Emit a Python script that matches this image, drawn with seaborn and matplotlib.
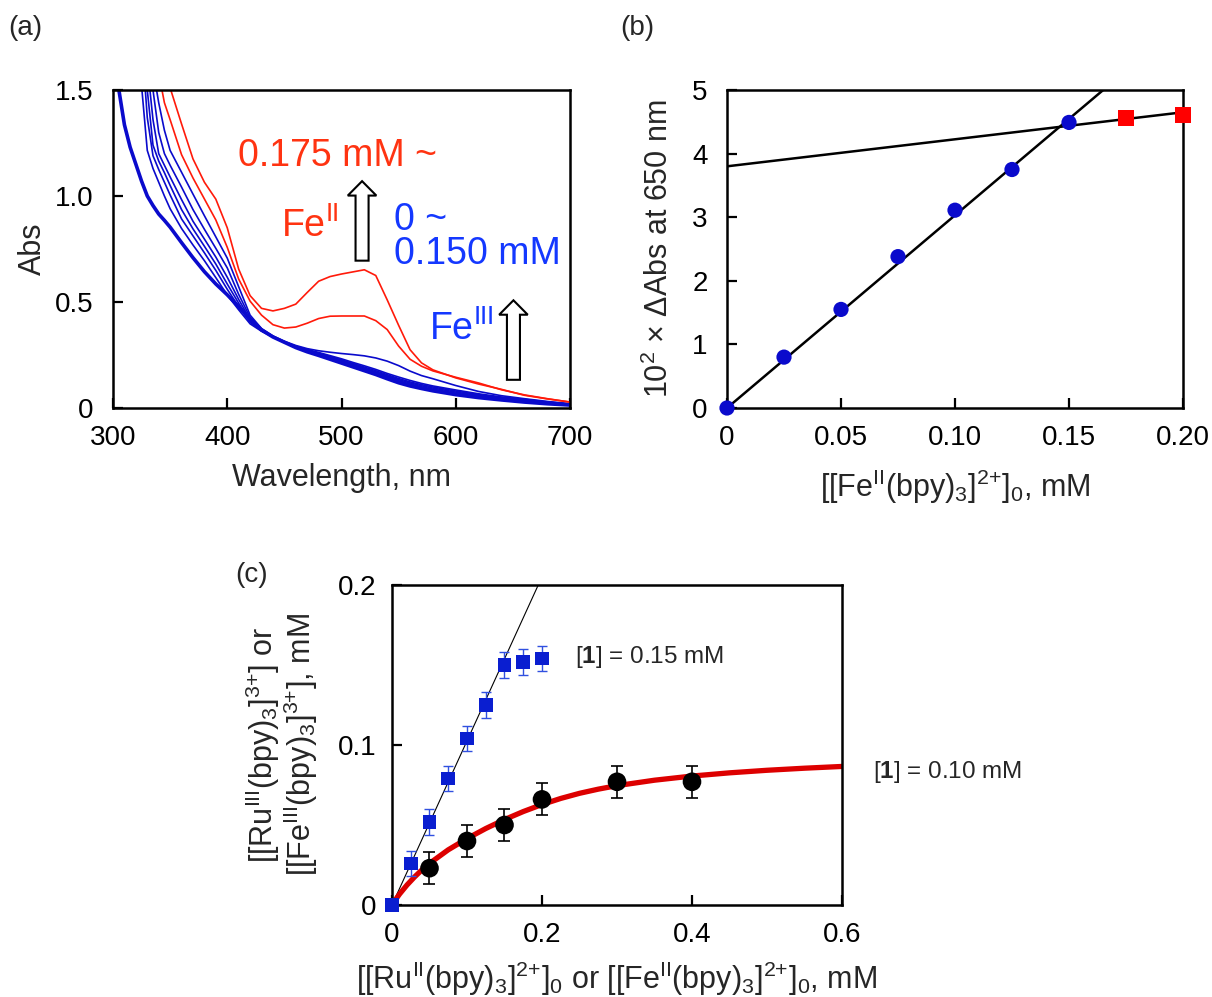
import numpy as np
import pandas as pd
import seaborn as sns
import matplotlib.pyplot as plt
from matplotlib.patches import FancyArrow

# ---- (a) spectra, Abs (values > 1.5 are off-scale)
wl = [300, 305, 310, 315, 320, 325, 330, 335, 340, 345, 350, 360, 370, 380, 390, 400, 410, 420, 430, 440,
      450, 460, 470, 480, 490, 500, 510, 520, 530, 540, 550, 560, 570, 580, 600,
      620, 640, 660, 680, 700]
abs_000 = [1.72, 1.505, 1.336, 1.23, 1.15, 1.07, 1.0, 0.955, 0.915, 0.885, 0.853,
           0.78, 0.709, 0.643, 0.585, 0.534, 0.478, 0.42, 0.368, 0.335,
           0.31, 0.285, 0.265, 0.248, 0.23, 0.212, 0.194, 0.176, 0.158, 0.138, 0.119, 0.104, 0.092, 0.081, 0.063,
           0.049, 0.038, 0.028, 0.02, 0.014]
abs_025 = [2.9, 2.7, 2.5, 2.3, 1.95, 1.52, 1.215, 1.13, 1.065, 1.0, 0.94,
           0.847, 0.769, 0.695, 0.615, 0.533, 0.463, 0.397, 0.362, 0.335,
           0.31, 0.286, 0.267, 0.25, 0.233, 0.215, 0.198, 0.18, 0.163, 0.143, 0.124, 0.109, 0.096, 0.085, 0.066,
           0.052, 0.04, 0.03, 0.021, 0.015]
abs_050 = [2.9, 2.7, 2.5, 2.3, 2.1, 1.75, 1.37, 1.19, 1.125, 1.065, 1.005,
           0.892, 0.812, 0.732, 0.649, 0.56, 0.478, 0.405, 0.364, 0.335,
           0.31, 0.287, 0.269, 0.253, 0.236, 0.219, 0.202, 0.184, 0.167, 0.148, 0.129, 0.113, 0.1, 0.089, 0.07,
           0.055, 0.043, 0.032, 0.023, 0.016]
abs_075 = [2.9, 2.7, 2.6, 2.4, 2.2, 1.85, 1.5, 1.24, 1.165, 1.11, 1.05,
           0.936, 0.845, 0.763, 0.679, 0.585, 0.494, 0.411, 0.366, 0.336,
           0.311, 0.288, 0.271, 0.256, 0.239, 0.223, 0.206, 0.188, 0.171, 0.152, 0.134, 0.118, 0.105, 0.094, 0.075,
           0.059, 0.046, 0.035, 0.025, 0.017]
abs_100 = [3.0, 2.8, 2.6, 2.4, 2.2, 1.95, 1.62, 1.36, 1.2, 1.145, 1.09,
           0.983, 0.881, 0.797, 0.712, 0.617, 0.512, 0.418, 0.368, 0.337,
           0.312, 0.29, 0.273, 0.259, 0.243, 0.227, 0.21, 0.193, 0.176, 0.157, 0.139, 0.123, 0.11, 0.099, 0.08,
           0.063, 0.049, 0.038, 0.027, 0.018]
abs_125 = [3.0, 2.8, 2.6, 2.4, 2.25, 2.0, 1.72, 1.5, 1.3, 1.2, 1.145,
           1.042, 0.936, 0.843, 0.753, 0.661, 0.536, 0.427, 0.372, 0.338,
           0.313, 0.292, 0.276, 0.262, 0.247, 0.232, 0.215, 0.199, 0.182, 0.163, 0.146, 0.13, 0.116, 0.104, 0.085,
           0.067, 0.052, 0.041, 0.029, 0.019]
abs_150 = [3.0, 2.9, 2.7, 2.5, 2.3, 2.1, 1.82, 1.6, 1.44, 1.31, 1.215,
           1.112, 1.009, 0.907, 0.807, 0.707, 0.572, 0.438, 0.375, 0.34,
           0.315, 0.295, 0.28, 0.27, 0.263, 0.257, 0.252, 0.246, 0.236, 0.221, 0.2, 0.174, 0.153, 0.138, 0.106,
           0.078, 0.058, 0.044, 0.031, 0.02]
abs_175 = [3.2, 3.0, 2.8, 2.6, 2.45, 2.3, 2.0, 1.8, 1.58, 1.44, 1.36,
           1.195, 1.085, 0.986, 0.887, 0.758, 0.608, 0.504, 0.438, 0.393,
           0.377, 0.382, 0.40, 0.422, 0.433, 0.434, 0.434, 0.434, 0.412, 0.37, 0.292, 0.23, 0.197, 0.175, 0.145,
           0.118, 0.086, 0.062, 0.044, 0.028]
abs_200 = [3.2, 3.1, 2.9, 2.75, 2.6, 2.5, 2.3, 2.1, 1.85, 1.65, 1.51,
           1.34, 1.175, 1.065, 0.985, 0.85, 0.655, 0.53, 0.47, 0.458,
           0.47, 0.49, 0.545, 0.598, 0.62, 0.632, 0.642, 0.652, 0.625, 0.51, 0.39, 0.275, 0.213, 0.18, 0.142,
           0.113, 0.088, 0.06, 0.043, 0.028]
blue_thin = [abs_025, abs_050, abs_075, abs_100, abs_125, abs_150]
red_curves = [abs_175, abs_200]

# ---- (b) titration at 650 nm
fe_conc = [0, 0.025, 0.05, 0.075, 0.10, 0.125, 0.15]
dabs = [0.0, 0.80, 1.55, 2.38, 3.11, 3.75, 4.49]
fe_conc_red = [0.175, 0.20]
dabs_red = [4.56, 4.61]
fit1_x = [0, 0.165]
fit1_y = [0, 5.0]
fit2_x = [0, 0.20]
fit2_y = [3.80, 4.65]

# ---- (c) yields
ru_x = [0, 0.025, 0.05, 0.075, 0.10, 0.125, 0.15, 0.175, 0.20]
ru_y = [0, 0.026, 0.052, 0.079, 0.104, 0.125, 0.150, 0.152, 0.154]
ru_err = [0.004, 0.008, 0.008, 0.008, 0.008, 0.008, 0.008, 0.008, 0.008]
fe_x = [0.05, 0.10, 0.15, 0.20, 0.30, 0.40]
fe_y = [0.023, 0.040, 0.050, 0.066, 0.077, 0.077]
fe_err = [0.010, 0.010, 0.010, 0.010, 0.010, 0.010]
curve_x = [0, 0.005, 0.01, 0.02, 0.03, 0.04, 0.05, 0.075, 0.10, 0.125, 0.15, 0.175, 0.20,
           0.225, 0.25, 0.275, 0.30, 0.35, 0.40, 0.45, 0.50, 0.55, 0.60]
curve_y = [0, 0.0035, 0.0068, 0.0125, 0.0175, 0.0220, 0.0260, 0.0345, 0.0415, 0.0478, 0.0534, 0.0584, 0.0628,
           0.0666, 0.0698, 0.0724, 0.0746, 0.0780, 0.0806, 0.0826, 0.0842, 0.0855, 0.0866]
line_x = [0, 0.195]
line_y = [0, 0.20]

BLUE = "#0a0acc"
RED = "#ff1a0a"
TXT_RED = "#ff3311"
TXT_BLUE = "#1438ff"

sns.set_theme(style="ticks")
plt.rcParams['font.family'] = ['Liberation Sans', 'DejaVu Sans']
plt.rcParams['mathtext.fontset'] = 'custom'
plt.rcParams['mathtext.rm'] = 'Liberation Sans'
plt.rcParams['mathtext.bf'] = 'Liberation Sans:bold'
plt.rcParams['mathtext.it'] = 'Liberation Sans:italic'
plt.rcParams['mathtext.default'] = 'regular'

fig = plt.figure(figsize=(12.12, 9.97), dpi=100)
W, H = 1212, 997


def make_ax(l, t, r, b):
    return fig.add_axes([l / W, 1 - b / H, (r - l) / W, (b - t) / H])


def style(ax, ypad=14):
    for s in ax.spines.values():
        s.set_linewidth(1.8)
        s.set_color("black")
    ax.tick_params(direction="in", length=7, width=1.6, top=False, right=False,
                   labelsize=20, colors="black")
    ax.tick_params(axis="x", pad=12)
    ax.tick_params(axis="y", pad=ypad)


# ---------- (a)
ax1 = make_ax(113, 90, 570, 408)
sns.lineplot(x=wl, y=abs_000, ax=ax1, color=BLUE, lw=2.6, sort=False)
for c in blue_thin:
    sns.lineplot(x=wl, y=c, ax=ax1, color=BLUE, lw=1.2, sort=False)
for c in red_curves:
    sns.lineplot(x=wl, y=c, ax=ax1, color=RED, lw=1.2, sort=False)
ax1.set_xlim(300, 700)
ax1.set_ylim(0, 1.5)
ax1.set_xticks([300, 400, 500, 600, 700])
ax1.set_yticks([0, 0.5, 1.0, 1.5])
ax1.set_yticklabels(["0", "0.5", "1.0", "1.5"])
ax1.set_xlabel("Wavelength, nm", fontsize=22, labelpad=9)
ax1.set_ylabel("Abs", fontsize=22, labelpad=5)
style(ax1)
ax1.text(409, 1.19, "0.175 mM ~", color=TXT_RED, fontsize=27, va="center")
ax1.text(447, 0.857, "Fe$^{II}$", color=TXT_RED, fontsize=27, va="center")
ax1.text(546, 0.886, "0 ~", color=TXT_BLUE, fontsize=27, va="center")
ax1.text(546, 0.727, "0.150 mM", color=TXT_BLUE, fontsize=27, va="center")
ax1.text(577, 0.371, "Fe$^{III}$", color=TXT_BLUE, fontsize=27, va="center")
for xc, y0, y1 in [(518, 0.695, 1.07), (650.5, 0.133, 0.508)]:
    ax1.add_patch(FancyArrow(xc, y0, 0, y1 - y0, width=11.4, head_width=25,
                             head_length=0.068, length_includes_head=True,
                             facecolor="white", edgecolor="black", lw=1.5, zorder=5))

# ---------- (b)
ax2 = make_ax(727, 90, 1183, 408)
sns.lineplot(x=fit1_x, y=fit1_y, ax=ax2, color="black", lw=1.8)
sns.lineplot(x=fit2_x, y=fit2_y, ax=ax2, color="black", lw=1.8)
sns.scatterplot(x=fe_conc, y=dabs, ax=ax2, color=BLUE, s=120, marker="o",
                edgecolor="none", zorder=4, clip_on=False)
sns.scatterplot(x=fe_conc_red, y=dabs_red, ax=ax2, color="#ff0000", s=130, marker="s",
                edgecolor="none", zorder=4, clip_on=False)
ax2.set_xlim(0, 0.20)
ax2.set_ylim(0, 5)
ax2.set_xticks([0, 0.05, 0.10, 0.15, 0.20])
ax2.set_xticklabels(["0", "0.05", "0.10", "0.15", "0.20"])
ax2.set_yticks([0, 1, 2, 3, 4, 5])
ax2.set_xlabel("[[Fe$^{II}$(bpy)$_3$]$^{\\text{2+}}$]$_0$, mM", fontsize=22, labelpad=12)
ax2.set_ylabel("10$^2$ × ΔAbs at 650 nm", fontsize=22, labelpad=12)
style(ax2)

# ---------- (c)
ax3 = make_ax(392, 585, 842, 905)
sns.lineplot(x=line_x, y=line_y, ax=ax3, color="black", lw=0.8)
sns.lineplot(x=curve_x, y=curve_y, ax=ax3, color="#dd0000", lw=3.8)
ax3.errorbar(fe_x, fe_y, yerr=fe_err, fmt="none", ecolor="black", elinewidth=1.2,
             capsize=4, capthick=1.2, zorder=3)
sns.scatterplot(x=fe_x, y=fe_y, ax=ax3, color="black", s=180, marker="o",
                edgecolor="none", zorder=4)
ax3.errorbar(ru_x, ru_y, yerr=ru_err, fmt="none", ecolor="#3050e0", elinewidth=1.0,
             capsize=3.5, capthick=1.0, zorder=3)
sns.scatterplot(x=ru_x, y=ru_y, ax=ax3, color="#0a1ed0", s=95, marker="s",
                edgecolor="none", zorder=5, clip_on=False)
ax3.set_xlim(0, 0.6)
ax3.set_ylim(0, 0.2)
ax3.set_xticks([0, 0.2, 0.4, 0.6])
ax3.set_xticklabels(["0", "0.2", "0.4", "0.6"])
ax3.set_yticks([0, 0.1, 0.2])
ax3.set_yticklabels(["0", "0.1", "0.2"])
ax3.set_xlabel("[[Ru$^{II}$(bpy)$_3$]$^{\\text{2+}}$]$_0$ or [[Fe$^{II}$(bpy)$_3$]$^{\\text{2+}}$]$_0$, mM",
               fontsize=22, labelpad=9)
ax3.set_ylabel("[[Ru$^{III}$(bpy)$_3$]$^{\\text{3+}}$] or\n[[Fe$^{III}$(bpy)$_3$]$^{\\text{3+}}$], mM",
               fontsize=22, labelpad=13, linespacing=1.0)
style(ax3, ypad=11)
ax3.text(0.244, 0.155, "[$\\mathbf{1}$] = 0.15 mM", fontsize=17.5, va="center")
ax3.text(0.641, 0.083, "[$\\mathbf{1}$] = 0.10 mM", fontsize=17.5, va="center")

# panel letters
fig.text(8 / W, 1 - 28 / H, "(a)", fontsize=20, va="center")
fig.text(620 / W, 1 - 28 / H, "(b)", fontsize=20, va="center")
fig.text(235 / W, 1 - 575 / H, "(c)", fontsize=20, va="center")

fig.savefig("out.png", dpi=100)
